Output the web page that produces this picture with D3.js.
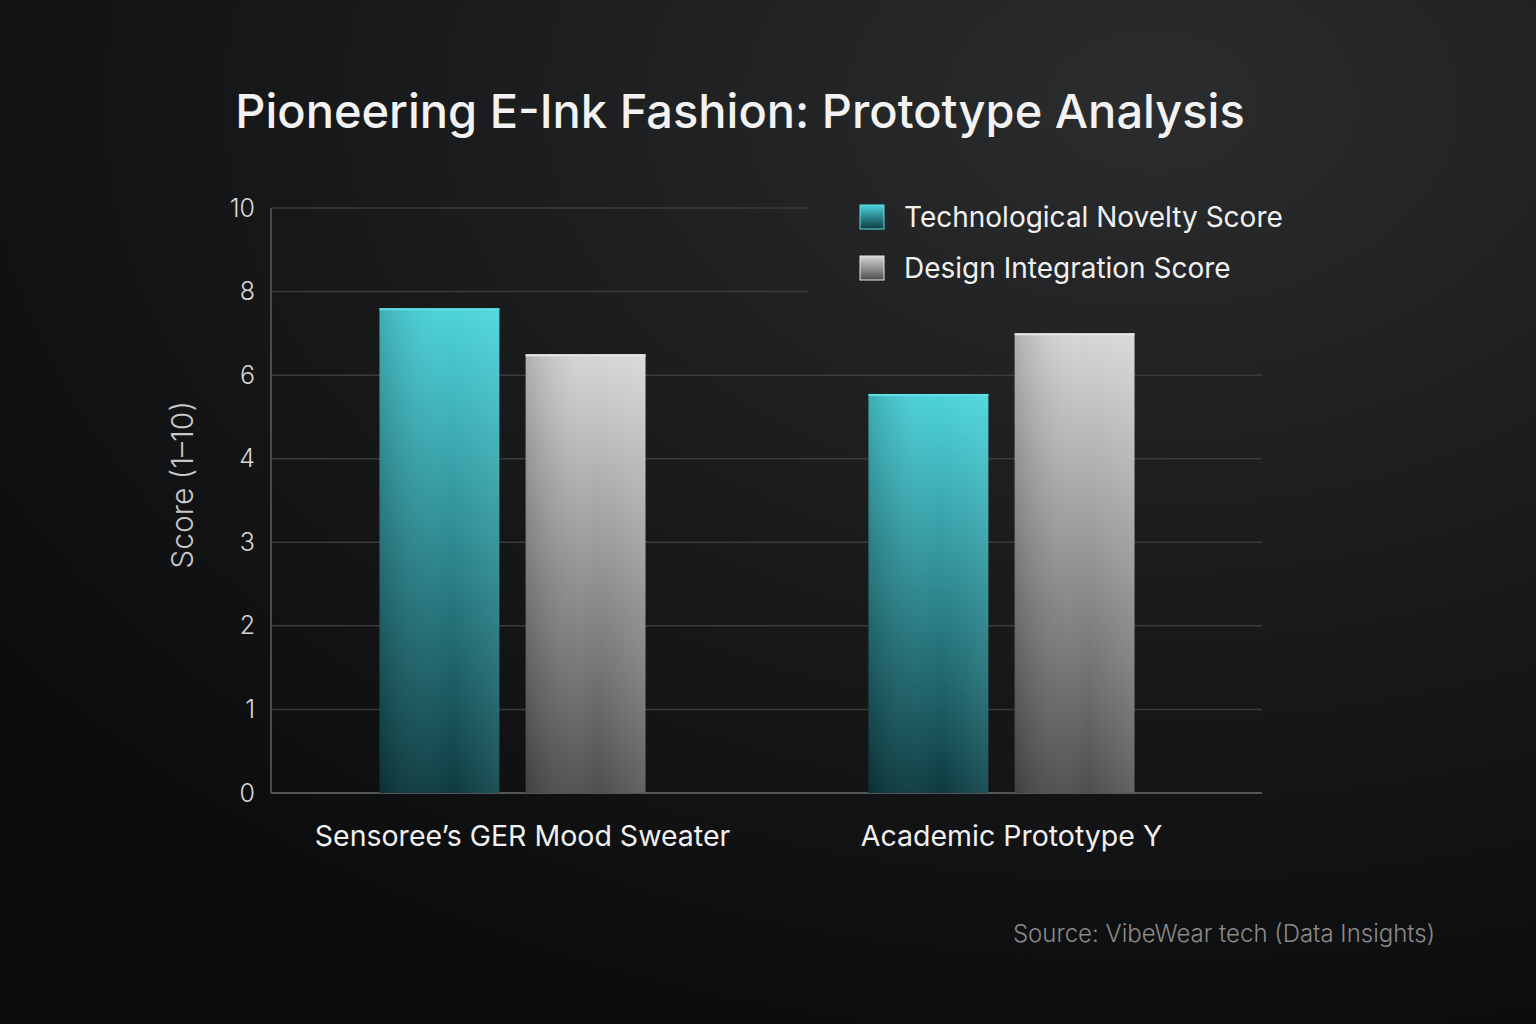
<!DOCTYPE html>
<html>
<head>
<meta charset="utf-8">
<script src="https://cdn.jsdelivr.net/npm/d3@7"></script>
<style>
  html, body { margin: 0; padding: 0; background: #121314; }
  svg { display: block; }
</style>
</head>
<body>
<div id="chart"></div>
<script>
// chart data
var categories = ["Sensoree\u2019s GER Mood Sweater", "Academic Prototype Y"];
var seriesNames = ["Technological Novelty Score", "Design Integration Score"];
var techScores = [7.6, 5.55];
var designScores = [6.5, 7.0];
var tickLabels = [0, 1, 2, 3, 4, 6, 8, 10];

var width = 1536, height = 1024;
var plotLeft = 271, plotRight = 1262, plotTop = 208, plotBottom = 793;

var svg = d3.select("#chart").append("svg")
    .attr("width", width)
    .attr("height", height);

var defs = svg.append("defs");

// background
var bg = defs.append("radialGradient").attr("id", "bg")
    .attr("cx", "75%").attr("cy", "10%").attr("r", "95%");
bg.append("stop").attr("offset", "0%").attr("stop-color", "#2b2c2e");
bg.append("stop").attr("offset", "55%").attr("stop-color", "#18191a");
bg.append("stop").attr("offset", "100%").attr("stop-color", "#0b0c0d");
svg.append("rect").attr("width", width).attr("height", height).attr("fill", "url(#bg)");

// bar gradients
function barGradient(id, top, bottom, shine){
    var g = defs.append("linearGradient").attr("id", id)
        .attr("x1", "0%").attr("y1", "0%").attr("x2", "0%").attr("y2", "100%");
    g.append("stop").attr("offset", "0%").attr("stop-color", top);
    g.append("stop").attr("offset", "100%").attr("stop-color", bottom);
    var h = defs.append("linearGradient").attr("id", id + "-h")
        .attr("x1", "0%").attr("y1", "0%").attr("x2", "100%").attr("y2", "0%");
    h.append("stop").attr("offset", "0%").attr("stop-color", "#000").attr("stop-opacity", 0.18);
    h.append("stop").attr("offset", "60%").attr("stop-color", shine).attr("stop-opacity", 0.0);
    h.append("stop").attr("offset", "100%").attr("stop-color", shine).attr("stop-opacity", 0.12);
}
barGradient("tech", "#4dd3db", "#0e3a40", "#9ff");
barGradient("design", "#d6d6d6", "#4e4e4e", "#fff");

var fills = ["tech", "design"];
var edges = ["#5fe0e6", "#e6e6e6"];

// scales
var y = d3.scaleLinear()
    .domain(tickLabels)
    .range(tickLabels.map(function(d, i){ return plotBottom - i * (plotBottom - plotTop) / (tickLabels.length - 1); }));

var x0 = d3.scaleBand().domain(categories).range([268, 1246]).padding(0);
var x1 = d3.scaleBand().domain(seriesNames).range([-133, 133]).paddingInner(0.18);

// title
svg.append("text")
    .attr("x", 740).attr("y", 128)
    .attr("text-anchor", "middle")
    .attr("fill", "#f2f2f2")
    .style("font-family", "Inter, 'Noto Sans', sans-serif")
    .style("font-size", "47px")
    .style("font-weight", 500)
    .text("Pioneering E-Ink Fashion: Prototype Analysis");

// grid + y axis
var yAxis = svg.append("g")
    .attr("transform", "translate(" + plotLeft + ",0)")
    .call(d3.axisLeft(y).tickValues(tickLabels).tickSize(0).tickPadding(16).tickFormat(d3.format("d")));
yAxis.select(".domain").remove();
yAxis.selectAll("text")
    .attr("fill", "#d8d8d8")
    .style("font-family", "Inter, 'Noto Sans', sans-serif")
    .style("font-size", "25px")
    .style("font-weight", 300);

svg.append("g").selectAll("line")
    .data(tickLabels.filter(function(d){ return d > 0; }))
    .enter().append("line")
    .attr("x1", plotLeft)
    .attr("x2", function(d){ return d >= 8 ? 808 : plotRight; })
    .attr("y1", function(d){ return y(d); })
    .attr("y2", function(d){ return y(d); })
    .attr("stroke", "#3a3b3d")
    .attr("stroke-width", 1.5);

// axis lines
svg.append("line")
    .attr("x1", plotLeft).attr("x2", plotLeft)
    .attr("y1", plotTop).attr("y2", plotBottom)
    .attr("stroke", "#4a4b4d").attr("stroke-width", 2);
svg.append("line")
    .attr("x1", plotLeft).attr("x2", plotRight)
    .attr("y1", plotBottom).attr("y2", plotBottom)
    .attr("stroke", "#555").attr("stroke-width", 2);

// bars
var rows = categories.map(function(c, i){
    return [
        { cat: c, key: seriesNames[0], value: techScores[i], k: 0 },
        { cat: c, key: seriesNames[1], value: designScores[i], k: 1 }
    ];
});

var groups = svg.append("g").selectAll("g")
    .data(rows)
    .enter().append("g")
    .attr("transform", function(d, i){ return "translate(" + (x0(categories[i]) + x0.bandwidth() / 2) + ",0)"; });

var bars = groups.selectAll("g.bar")
    .data(function(d){ return d; })
    .enter().append("g").attr("class", "bar");

bars.append("rect")
    .attr("x", function(d){ return x1(d.key); })
    .attr("y", function(d){ return y(d.value); })
    .attr("width", x1.bandwidth())
    .attr("height", function(d){ return plotBottom - y(d.value); })
    .attr("fill", function(d){ return "url(#" + fills[d.k] + ")"; });
bars.append("rect")
    .attr("x", function(d){ return x1(d.key); })
    .attr("y", function(d){ return y(d.value); })
    .attr("width", x1.bandwidth())
    .attr("height", function(d){ return plotBottom - y(d.value); })
    .attr("fill", function(d){ return "url(#" + fills[d.k] + "-h)"; });
bars.append("line")
    .attr("x1", function(d){ return x1(d.key); })
    .attr("x2", function(d){ return x1(d.key) + x1.bandwidth(); })
    .attr("y1", function(d){ return y(d.value) + 1; })
    .attr("y2", function(d){ return y(d.value) + 1; })
    .attr("stroke", function(d){ return edges[d.k]; })
    .attr("stroke-width", 2);

// category labels
svg.append("g").selectAll("text")
    .data(categories)
    .enter().append("text")
    .attr("x", function(d){ return x0(d) + x0.bandwidth() / 2 + 10; })
    .attr("y", 846)
    .attr("text-anchor", "middle")
    .attr("fill", "#f0f0f0")
    .style("font-family", "Inter, 'Noto Sans', sans-serif")
    .style("font-size", "28.5px")
    .text(function(d){ return d; });

// y label
svg.append("text")
    .attr("transform", "translate(193,485) rotate(-90)")
    .attr("text-anchor", "middle")
    .attr("fill", "#c8c8c8")
    .style("font-family", "Inter, 'Noto Sans', sans-serif")
    .style("font-size", "30px")
    .style("font-weight", 300)
    .text("Score (1\u201310)");

// legend
var legend = svg.append("g").attr("transform", "translate(860,205)");
var li = legend.selectAll("g")
    .data(seriesNames)
    .enter().append("g")
    .attr("transform", function(d, i){ return "translate(0," + (i * 51) + ")"; });
li.append("rect")
    .attr("width", 24).attr("height", 24)
    .attr("fill", function(d, i){ return "url(#" + fills[i] + ")"; })
    .attr("stroke", function(d, i){ return edges[i]; })
    .attr("stroke-width", 1);
li.append("text")
    .attr("x", 44).attr("y", 22)
    .attr("fill", "#f0f0f0")
    .style("font-family", "Inter, 'Noto Sans', sans-serif")
    .style("font-size", "28px")
    .text(function(d){ return d; });

// source
svg.append("text")
    .attr("x", 1435).attr("y", 942)
    .attr("text-anchor", "end")
    .attr("fill", "#8a8a8a")
    .style("font-family", "Inter, 'Noto Sans', sans-serif")
    .style("font-size", "24px")
    .style("font-weight", 300)
    .text("Source: VibeWear tech (Data Insights)");
</script>
</body>
</html>
